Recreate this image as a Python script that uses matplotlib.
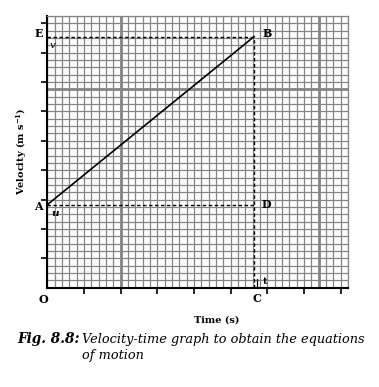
import matplotlib
matplotlib.use("Agg")
import matplotlib.pyplot as plt
import numpy as np

plt.rcParams['font.family'] = ['DejaVu Serif']
plt.rcParams['mathtext.fontset'] = 'dejavuserif'

# Data (in grid-cell units)
x_max, y_max = 41, 37
x_major_lines = [10, 37]
y_major_lines = [27]
x_ticks = [5, 10, 15, 20, 25, 30, 35, 40]
y_ticks = [4, 8, 12, 16, 20, 24, 28, 32, 36]
t0 = 0.0
u = 11.3      # initial velocity
t = 28.2      # time t
v = 34.2      # final velocity
line_t = [t0, t]
line_v = [u, v]

W, H = 379, 387
fig = plt.figure(figsize=(W / 100, H / 100), dpi=100)
ax = fig.add_axes([47.3 / W, (H - 287.7) / H, 300.7 / W, 271.7 / H])
ax.set_xlim(0, x_max)
ax.set_ylim(0, y_max)

grid_c = '#858585'
ax.set_xticks(np.arange(0, x_max + 1), minor=True)
ax.set_yticks(np.arange(0, y_max + 1), minor=True)
ax.set_xticks(x_ticks)
ax.set_yticks(y_ticks)
ax.set_xticklabels([])
ax.set_yticklabels([])
ax.grid(which='both', color=grid_c, lw=0.9)
ax.tick_params(which='minor', length=0)
ax.tick_params(which='major', direction='out', length=4.5, width=1.2, color='black')
ax.set_axisbelow(True)
for xm in x_major_lines:
    ax.axvline(xm, color=grid_c, lw=2.0, zorder=1)
for ym in y_major_lines:
    ax.axhline(ym, color=grid_c, lw=2.0, zorder=1)

for s in ['top', 'right']:
    ax.spines[s].set_color(grid_c)
    ax.spines[s].set_linewidth(0.9)
for s in ['left', 'bottom']:
    ax.spines[s].set_color('black')
    ax.spines[s].set_linewidth(1.5)

# Main line A-B
ax.plot(line_t, line_v, color='black', lw=1.2, zorder=5)
# Dashed guide lines
ds = dict(color='black', lw=1.0, dashes=(2.5, 1.8), zorder=5)
ax.plot([0, t], [v, v], **ds)
ax.plot([t, t], [0, v], **ds)
ax.plot([0, t], [u, u], **ds)
ax.plot([t + 0.35, t + 0.35], [0, 1.2], color='black', lw=0.9, zorder=5)

bold = dict(fontsize=8, fontweight='bold', ha='center', va='center',
            textcoords='offset points', annotation_clip=False)
ax.annotate('A', (t0, u), xytext=(-6.2, -1.4), **bold)
ax.annotate('E', (t0, v), xytext=(-6.0, 2.4), **bold)
ax.annotate('B', (t, v), xytext=(9.4, 2.4), **bold)
ax.annotate('D', (t, u), xytext=(9.1, 0), **bold)
ax.annotate('C', (t, 0), xytext=(2.0, -8.1), **bold)
ax.annotate('O', (t0, 0), xytext=(-2.6, -8.3), **bold)
ax.annotate('t', (t, 0), xytext=(8.0, 4.3), fontsize=7, fontweight='bold',
            ha='center', va='center', textcoords='offset points')
it = dict(fontsize=7.5, fontstyle='italic', ha='center', va='center',
          textcoords='offset points')
ax.annotate('u', (t0, u), xytext=(5.5, -6.5), fontweight='bold', **it)
ax.annotate('v', (t0, v), xytext=(4.1, -6.3), **it)

fig.text(216.7 / W, 1 - 320 / H, 'Time (s)', fontsize=7, fontweight='bold',
         ha='center', va='center')
fig.text(22 / W, 1 - 151 / H, r'Velocity (m s$^{\mathbf{-1}}$)', fontsize=7,
         fontweight='bold', rotation=90, ha='center', va='center')

# Caption
cap1 = fig.text(17 / W, 1 - 339 / H, 'Fig. 8.8:', fontsize=9.8, fontweight='bold',
                fontstyle='italic', ha='left', va='center')
fig.canvas.draw()
r = fig.canvas.get_renderer()
bb = cap1.get_window_extent(r)
fig.text(bb.x1 / W + 3 / W, 1 - 339 / H, 'Velocity-time graph to obtain the equations',
         fontsize=9.3, fontstyle='italic', ha='left', va='center')
fig.text(82 / W, 1 - 355 / H, 'of motion', fontsize=9.3, fontstyle='italic',
         ha='left', va='center')

fig.savefig('out.png', dpi=100)
